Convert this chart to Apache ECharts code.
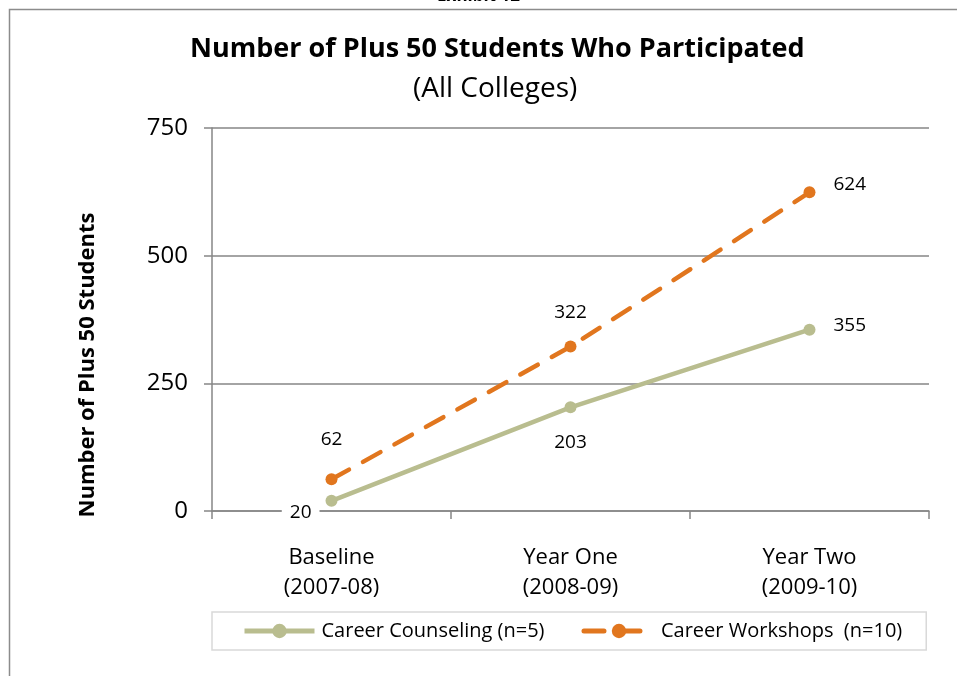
<!DOCTYPE html>
<html>
<head>
<meta charset="utf-8">
<script src="https://cdn.jsdelivr.net/npm/echarts@6/dist/echarts.min.js"></script>
<style>
html, body { margin: 0; padding: 0; background: #fff; }
#chart { width: 957px; height: 676px; }
</style>
</head>
<body>
<div id="chart"></div>
<script>
// chart data
var categories = ['Baseline\n(2007-08)', 'Year One\n(2008-09)', 'Year Two\n(2009-10)'];
var counselingValues = [20, 203, 355];
var workshopValues = [62, 322, 624];
var yTicks = [0, 250, 500, 750];

var mainFont = '"Open Sans", sans-serif';
var axisColor = '#868686';

var chart = echarts.init(document.getElementById('chart'));

// per-point label placement, like the excel original
var counselingLabels = [
    { position: 'left', distance: 6, offset: [0, 12], backgroundColor: '#fff', padding: [2, 8] },
    { position: 'bottom', distance: 20 },
    { position: 'right', distance: 18, offset: [0, -4] }
];
var workshopLabels = [
    { position: 'top', distance: 24 },
    { position: 'top', distance: 18 },
    { position: 'right', distance: 18, offset: [0, -8] }
];

chart.setOption({
    animation: false,
    backgroundColor: '#fff',
    title: [{
        text: 'Number of Plus 50 Students Who Participated',
        left: 185,
        top: 31,
        textStyle: { fontFamily: mainFont, fontSize: 27, fontWeight: 'bold', color: '#000' }
    }, {
        text: '(All Colleges)',
        left: 408,
        top: 70,
        textStyle: { fontFamily: mainFont, fontSize: 28, fontWeight: 'normal', color: '#000' }
    }],
    graphic: [{
        type: 'rect',
        shape: { x: 9.5, y: 9.5, width: 980, height: 700 },
        style: { fill: 'none', stroke: '#8c8c8c', lineWidth: 1.5 }
    }, {
        type: 'text',
        left: 'center',
        top: -12,
        style: { text: 'Exhibit 12', font: 'bold 17px ' + mainFont, fill: '#000' }
    }, {
        type: 'text',
        x: 88,
        y: 365,
        rotation: Math.PI / 2,
        style: {
            text: 'Number of Plus 50 Students',
            font: 'bold 22px ' + mainFont,
            fill: '#000',
            align: 'center',
            verticalAlign: 'middle'
        }
    }],
    legend: {
        left: 212,
        top: 612,
        padding: [9, 24, 9, 30],
        itemGap: 37,
        itemWidth: 70,
        itemHeight: 18,
        borderColor: '#d9d9d9',
        borderWidth: 1.5,
        lineStyle: { width: 5 },
        textStyle: { fontFamily: mainFont, fontSize: 20, color: '#000', padding: [0, 0, 0, 2] },
        data: ['Career Counseling (n=5)', 'Career Workshops  (n=10)']
    },
    grid: { left: 212, right: 28, top: 128, bottom: 165 },
    xAxis: {
        type: 'category',
        data: categories,
        boundaryGap: true,
        axisLine: { lineStyle: { color: axisColor, width: 1.5 } },
        axisTick: { show: true, length: 8, alignWithLabel: false, lineStyle: { color: axisColor, width: 1.5 } },
        axisLabel: { fontFamily: mainFont, fontSize: 22, color: '#000', lineHeight: 30, margin: 32 }
    },
    yAxis: {
        type: 'value',
        min: yTicks[0],
        max: yTicks[yTicks.length - 1],
        interval: 250,
        axisLine: { show: true, lineStyle: { color: axisColor, width: 1.5 } },
        axisTick: { show: true, length: 8, lineStyle: { color: axisColor, width: 1.5 } },
        axisLabel: { fontFamily: mainFont, fontSize: 24, color: '#000', margin: 24 },
        splitLine: { lineStyle: { color: axisColor, width: 1.5 } }
    },
    series: [{
        name: 'Career Counseling (n=5)',
        type: 'line',
        data: counselingValues.map(function (v, i) {
            return { value: v, label: counselingLabels[i] };
        }),
        symbol: 'circle',
        symbolSize: 12,
        z: 3,
        itemStyle: { color: '#B9BD8F' },
        lineStyle: { color: '#B9BD8F', width: 4.5 },
        label: { show: true, fontFamily: mainFont, fontSize: 19, color: '#000' }
    }, {
        name: 'Career Workshops  (n=10)',
        type: 'line',
        data: workshopValues.map(function (v, i) {
            return { value: v, label: workshopLabels[i] };
        }),
        symbol: 'circle',
        symbolSize: 12,
        z: 4,
        itemStyle: { color: '#E1761E' },
        lineStyle: { color: '#E1761E', width: 4.5, type: [20, 16], cap: 'round' },
        label: { show: true, fontFamily: mainFont, fontSize: 19, color: '#000' }
    }]
});
</script>
</body>
</html>
